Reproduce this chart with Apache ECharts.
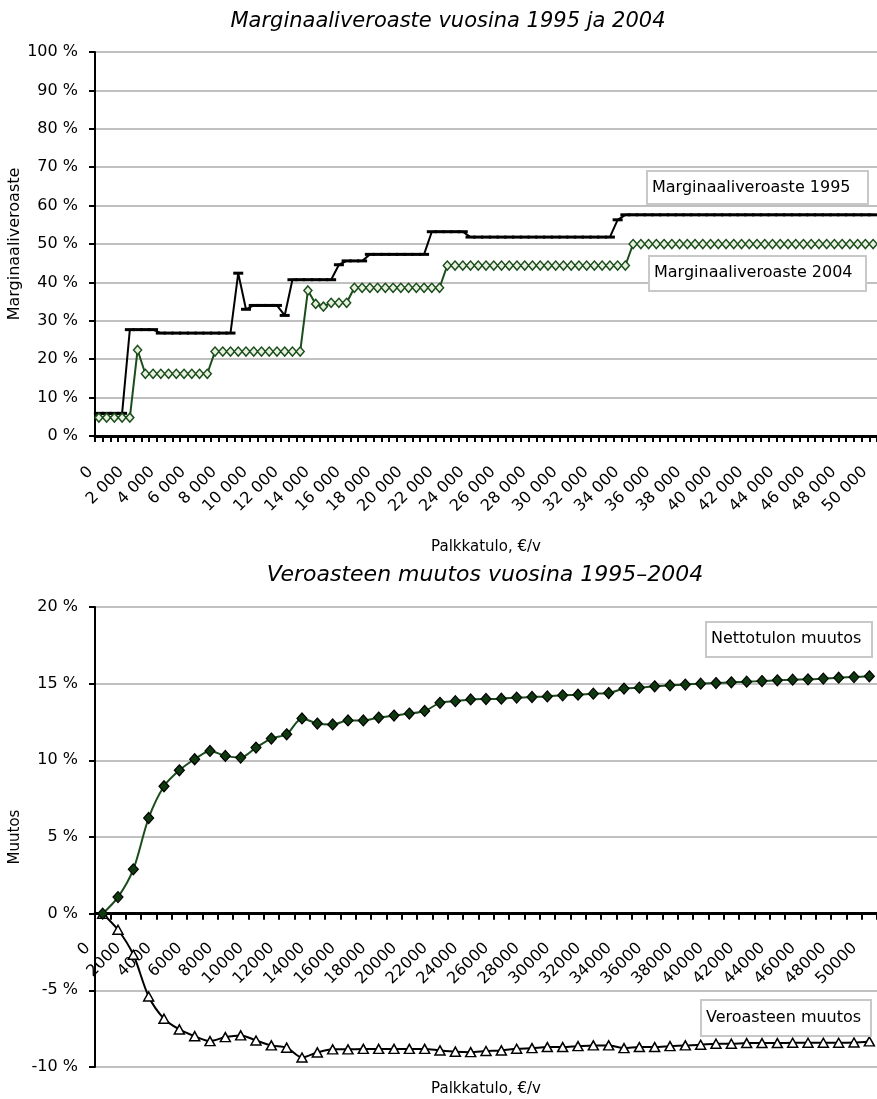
<!DOCTYPE html>
<html>
<head>
<meta charset="utf-8">
<script src="https://cdn.jsdelivr.net/npm/echarts@6/dist/echarts.min.js"></script>
<style>
html,body{margin:0;padding:0;background:#fff;overflow:hidden;}
#c{width:877px;height:1099px;}
</style>
</head>
<body>
<div id="c"></div>
<script>
// ---------- DATA ----------
// Top chart: wage income €/year, step 500
var incomeTop = [
  0,500,1000,1500,2000,2500,3000,3500,4000,4500,
  5000,5500,6000,6500,7000,7500,8000,8500,9000,9500,
  10000,10500,11000,11500,12000,12500,13000,13500,14000,14500,
  15000,15500,16000,16500,17000,17500,18000,18500,19000,19500,
  20000,20500,21000,21500,22000,22500,23000,23500,24000,24500,
  25000,25500,26000,26500,27000,27500,28000,28500,29000,29500,
  30000,30500,31000,31500,32000,32500,33000,33500,34000,34500,
  35000,35500,36000,36500,37000,37500,38000,38500,39000,39500,
  40000,40500,41000,41500,42000,42500,43000,43500,44000,44500,
  45000,45500,46000,46500,47000,47500,48000,48500,49000,49500,
  50000
];
// Marginal tax rate 1995 (%)
var marginal1995 = [
  5.9,5.9,5.9,5.9,27.7,27.7,27.7,27.7,26.8,26.8,
  26.8,26.8,26.8,26.8,26.8,26.8,26.8,26.8,42.4,33.0,
  34.0,34.0,34.0,34.0,31.4,40.7,40.7,40.7,40.7,40.7,
  40.7,44.6,45.6,45.6,45.6,47.3,47.3,47.3,47.3,47.3,
  47.3,47.3,47.3,53.2,53.2,53.2,53.2,53.2,51.8,51.8,
  51.8,51.8,51.8,51.8,51.8,51.8,51.8,51.8,51.8,51.8,
  51.8,51.8,51.8,51.8,51.8,51.8,51.8,56.3,57.6,57.6,
  57.6,57.6,57.6,57.6,57.6,57.6,57.6,57.6,57.6,57.6,
  57.6,57.6,57.6,57.6,57.6,57.6,57.6,57.6,57.6,57.6,
  57.6,57.6,57.6,57.6,57.6,57.6,57.6,57.6,57.6,57.6,
  57.6
];
// Marginal tax rate 2004 (%)
var marginal2004 = [
  4.8,4.8,4.8,4.8,4.8,22.4,16.2,16.2,16.2,16.2,
  16.2,16.2,16.2,16.2,16.2,22.0,22.0,22.0,22.0,22.0,
  22.0,22.0,22.0,22.0,22.0,22.0,22.0,37.9,34.4,33.7,
  34.7,34.7,34.7,38.6,38.6,38.6,38.6,38.6,38.6,38.6,
  38.6,38.6,38.6,38.6,38.6,44.4,44.4,44.4,44.4,44.4,
  44.4,44.4,44.4,44.4,44.4,44.4,44.4,44.4,44.4,44.4,
  44.4,44.4,44.4,44.4,44.4,44.4,44.4,44.4,44.4,50.0,
  50.0,50.0,50.0,50.0,50.0,50.0,50.0,50.0,50.0,50.0,
  50.0,50.0,50.0,50.0,50.0,50.0,50.0,50.0,50.0,50.0,
  50.0,50.0,50.0,50.0,50.0,50.0,50.0,50.0,50.0,50.0,
  50.0
];
// Bottom chart: wage income €/year, step 1000
var incomeBottom = [
  0,1000,2000,3000,4000,5000,6000,7000,8000,9000,
  10000,11000,12000,13000,14000,15000,16000,17000,18000,19000,
  20000,21000,22000,23000,24000,25000,26000,27000,28000,29000,
  30000,31000,32000,33000,34000,35000,36000,37000,38000,39000,
  40000,41000,42000,43000,44000,45000,46000,47000,48000,49000,
  50000
];
// Change in net income 1995–2004 (%)
var netIncomeChange = [
  0,1.08,2.89,6.24,8.31,9.35,10.07,10.61,10.29,10.18,
  10.83,11.42,11.70,12.73,12.40,12.34,12.60,12.60,12.79,12.92,
  13.05,13.22,13.75,13.86,13.97,14.00,14.02,14.09,14.13,14.17,
  14.24,14.28,14.35,14.39,14.68,14.74,14.83,14.89,14.94,15.00,
  15.04,15.09,15.13,15.17,15.22,15.26,15.28,15.33,15.39,15.43,
  15.48
];
// Change in tax rate 1995–2004 (%)
var taxRateChange = [
  0,-1.05,-2.68,-5.40,-6.85,-7.55,-7.99,-8.31,-8.05,-7.94,
  -8.27,-8.59,-8.74,-9.38,-9.05,-8.85,-8.85,-8.82,-8.82,-8.82,
  -8.82,-8.82,-8.92,-9.00,-9.03,-8.96,-8.92,-8.81,-8.77,-8.70,
  -8.70,-8.64,-8.59,-8.59,-8.77,-8.70,-8.70,-8.64,-8.59,-8.55,
  -8.48,-8.48,-8.44,-8.44,-8.44,-8.42,-8.42,-8.42,-8.42,-8.40,
  -8.33
];
var topTicks = [0,10,20,30,40,50,60,70,80,90,100];
var bottomTicks = [-10,-5,0,5,10,15,20];

// ---------- CHART ----------
var FONT = 'DejaVu Sans';
var chart = echarts.init(document.getElementById('c'), null, {renderer:'canvas'});

function thou(v){ return String(v).replace(/\B(?=(\d{3})+(?!\d))/g, '\u00a0'); }

var axisLineStyle = {color:'#000', width:2};
var gridLine = {show:true, lineStyle:{color:'#c0c0c0', width:2}};
var lblStyle = {color:'#000', fontFamily:FONT, fontSize:16};
var nameStyle = {color:'#000', fontFamily:FONT, fontSize:15};

// bottom grid geometry (used to place the label-only axis at the zero line)
var G2_TOP = 607, G2_H = 460;
var zeroOffset = -G2_H * (0 - bottomTicks[0]) / (bottomTicks[bottomTicks.length-1] - bottomTicks[0]);

var option = {
  animation:false,
  backgroundColor:'#fff',
  grid:[
    {left:95, top:52, width:782, height:384, containLabel:false, outerBoundsMode:'none'},
    {left:95, top:G2_TOP, width:782, height:G2_H, containLabel:false, outerBoundsMode:'none'}
  ],
  xAxis:[
    {
      type:'category', gridIndex:0, data:incomeTop, boundaryGap:true,
      axisLine:{lineStyle:{color:'#000', width:3}},
      axisTick:{show:true, interval:0, length:6, lineStyle:{color:'#000', width:2}},
      axisLabel:Object.assign({interval:3, rotate:45, margin:25, padding:[0,12,0,0], formatter:function(v){return thou(v);}}, lblStyle),
      splitLine:{show:false},
      name:'Palkkatulo, €/v', nameLocation:'middle', nameGap:104, nameMoveOverlap:false,
      nameTextStyle:nameStyle
    },
    {
      type:'category', gridIndex:1, data:incomeBottom, boundaryGap:true,
      axisLine:{onZero:true, lineStyle:{color:'#000', width:3}},
      axisTick:{show:true, interval:0, length:6, lineStyle:{color:'#000', width:2}},
      axisLabel:{show:false},
      splitLine:{show:false}
    },
    {
      // label-only axis for the bottom chart, sitting on the zero line
      type:'category', gridIndex:1, data:incomeBottom, boundaryGap:true,
      position:'bottom', offset:zeroOffset,
      axisLine:{show:false, onZero:false},
      axisTick:{show:false},
      axisLabel:Object.assign({interval:1, rotate:45, margin:17, padding:[0,21,0,0]}, lblStyle),
      splitLine:{show:false},
      name:'Palkkatulo, €/v', nameLocation:'middle', nameGap:168, nameMoveOverlap:false,
      nameTextStyle:nameStyle
    }
  ],
  yAxis:[
    {
      type:'value', gridIndex:0, min:topTicks[0], max:topTicks[topTicks.length-1], interval:10,
      axisLine:{show:true, lineStyle:axisLineStyle},
      axisTick:{show:true, length:6, lineStyle:{color:'#000', width:2}},
      axisLabel:Object.assign({margin:17, formatter:function(v){return v+' %';}}, lblStyle),
      splitLine:gridLine,
      name:'Marginaaliveroaste', nameLocation:'middle', nameGap:72, nameRotate:90, nameMoveOverlap:false,
      nameTextStyle:{color:'#000', fontFamily:FONT, fontSize:16}
    },
    {
      type:'value', gridIndex:1, min:bottomTicks[0], max:bottomTicks[bottomTicks.length-1], interval:5,
      axisLine:{show:true, lineStyle:axisLineStyle},
      axisTick:{show:true, length:6, lineStyle:{color:'#000', width:2}},
      axisLabel:Object.assign({margin:17, formatter:function(v){return v+' %';}}, lblStyle),
      splitLine:gridLine,
      name:'Muutos', nameLocation:'middle', nameGap:72, nameRotate:90, nameMoveOverlap:false,
      nameTextStyle:{color:'#000', fontFamily:FONT, fontSize:15}
    }
  ],
  series:[
    {
      name:'Marginaaliveroaste 1995', type:'line', xAxisIndex:0, yAxisIndex:0,
      data:marginal1995, symbol:'rect', symbolSize:[10,3], showAllSymbol:true,
      lineStyle:{color:'#000', width:2}, itemStyle:{color:'#000'}, z:3
    },
    {
      name:'Marginaaliveroaste 2004', type:'line', xAxisIndex:0, yAxisIndex:0,
      data:marginal2004, symbol:'diamond', symbolSize:[8,9], showAllSymbol:true,
      lineStyle:{color:'#1a4d1a', width:2},
      itemStyle:{color:'#e8f0e0', borderColor:'#1a4d1a', borderWidth:1.5}, z:4
    },
    {
      name:'Nettotulon muutos', type:'line', xAxisIndex:1, yAxisIndex:1,
      data:netIncomeChange, smooth:0.3, symbol:'diamond', symbolSize:[10,11], showAllSymbol:true,
      lineStyle:{color:'#1a4d1a', width:2},
      itemStyle:{color:'#0f3a0f', borderColor:'#000', borderWidth:1.2}, z:4
    },
    {
      name:'Veroasteen muutos', type:'line', xAxisIndex:1, yAxisIndex:1,
      data:taxRateChange, smooth:0.3, symbol:'triangle', symbolSize:[10,9], showAllSymbol:true,
      lineStyle:{color:'#000', width:2},
      itemStyle:{color:'#fff', borderColor:'#000', borderWidth:1.5}, z:3
    }
  ],
  graphic:[
    {type:'text', x:448, y:22, style:{text:'Marginaaliveroaste vuosina 1995 ja 2004', fill:'#000',
      font:'italic 21px "DejaVu Sans"', textAlign:'center', textVerticalAlign:'middle'}},
    {type:'text', x:485, y:575, style:{text:'Veroasteen muutos vuosina 1995\u20132004', fill:'#000',
      font:'italic 22px "DejaVu Sans"', textAlign:'center', textVerticalAlign:'middle'}},
    {type:'rect', shape:{x:647, y:171, width:221, height:33}, style:{fill:'#fff', stroke:'#c8c8c8', lineWidth:2}, z:10},
    {type:'text', x:652, y:188, z:11, style:{text:'Marginaaliveroaste 1995', fill:'#000', font:'16px "DejaVu Sans"', textVerticalAlign:'middle'}},
    {type:'rect', shape:{x:649, y:256, width:217, height:35}, style:{fill:'#fff', stroke:'#c8c8c8', lineWidth:2}, z:10},
    {type:'text', x:654, y:273, z:11, style:{text:'Marginaaliveroaste 2004', fill:'#000', font:'16px "DejaVu Sans"', textVerticalAlign:'middle'}},
    {type:'rect', shape:{x:706, y:622, width:166, height:35}, style:{fill:'#fff', stroke:'#c8c8c8', lineWidth:2}, z:10},
    {type:'text', x:711, y:639, z:11, style:{text:'Nettotulon muutos', fill:'#000', font:'16px "DejaVu Sans"', textVerticalAlign:'middle'}},
    {type:'rect', shape:{x:701, y:1000, width:170, height:36}, style:{fill:'#fff', stroke:'#c8c8c8', lineWidth:2}, z:10},
    {type:'text', x:706, y:1018, z:11, style:{text:'Veroasteen muutos', fill:'#000', font:'16px "DejaVu Sans"', textVerticalAlign:'middle'}}
  ]
};
chart.setOption(option);
</script>
</body>
</html>
